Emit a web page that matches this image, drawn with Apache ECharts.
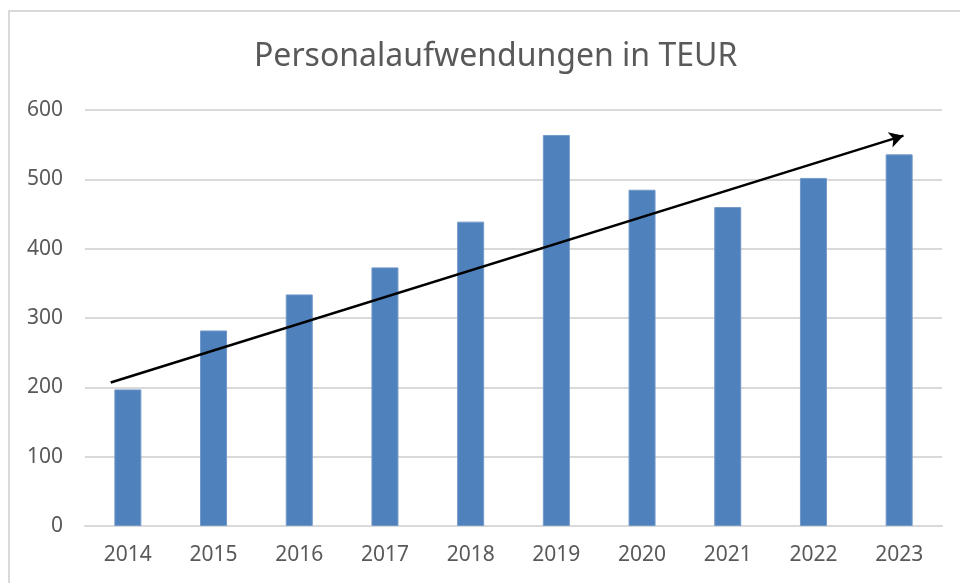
<!DOCTYPE html>
<html>
<head>
<meta charset="utf-8">
<style>
html,body{margin:0;padding:0;background:#fff;}
#chart{width:960px;height:583px;}
</style>
<script src="https://cdn.jsdelivr.net/npm/echarts@6/dist/echarts.min.js"></script>
</head>
<body>
<div id="chart"></div>
<script>
const chartTitle = 'Personalaufwendungen in TEUR';
const years = ['2014','2015','2016','2017','2018','2019','2020','2021','2022','2023'];
const values = [197, 282, 334, 373, 439, 564, 485, 460, 502, 536];
const yTicks = [0, 100, 200, 300, 400, 500, 600];
// trend arrow: start/end in (category index, value)
const arrowStart = [-0.2, 207];
const arrowEnd = [9.05, 563];

const chart = echarts.init(document.getElementById('chart'), null, {renderer:'canvas'});
const font = '"Noto Sans", "Open Sans", sans-serif';
chart.setOption({
  animation: false,
  backgroundColor: '#ffffff',
  title: {
    text: chartTitle,
    left: 249,
    top: 36,
    textStyle: {fontFamily: font, fontSize: 32, fontWeight: 'normal', color: '#595959'}
  },
  graphic: [{
    type: 'rect',
    shape: {x: 9, y: 11, width: 1000, height: 1000},
    style: {fill: 'none', stroke: '#d9d9d9', lineWidth: 2},
    silent: true
  }],
  grid: {left: 85, right: 18, top: 110, bottom: 57},
  xAxis: [{
    type: 'category',
    data: years,
    axisLine: {show: true, lineStyle: {color: '#d9d9d9', width: 2}},
    axisTick: {show: false},
    axisLabel: {fontFamily: font, fontSize: 21, color: '#595959', margin: 19}
  }, {
    type: 'value',
    min: -0.5, max: 9.5,
    show: false
  }],
  yAxis: {
    type: 'value',
    min: yTicks[0], max: yTicks[yTicks.length-1], interval: 100,
    axisLine: {show: false},
    axisTick: {show: false},
    splitLine: {lineStyle: {color: '#d9d9d9', width: 2}},
    axisLabel: {fontFamily: font, fontSize: 21, color: '#595959', margin: 22}
  },
  series: [{
    type: 'bar',
    data: values,
    barWidth: 27,
    itemStyle: {color: '#4f81bd', borderColor: '#7399c9', borderWidth: 1}
  }, {
    type: 'line',
    xAxisIndex: 1,
    data: [],
    markLine: {
      silent: true,
      symbol: ['none', 'arrow'],
      symbolSize: [12, 14],
      label: {show: false},
      lineStyle: {color: '#000000', width: 2.5, type: 'solid'},
      data: [[{coord: arrowStart}, {coord: arrowEnd}]]
    }
  }]
});
</script>
</body>
</html>
